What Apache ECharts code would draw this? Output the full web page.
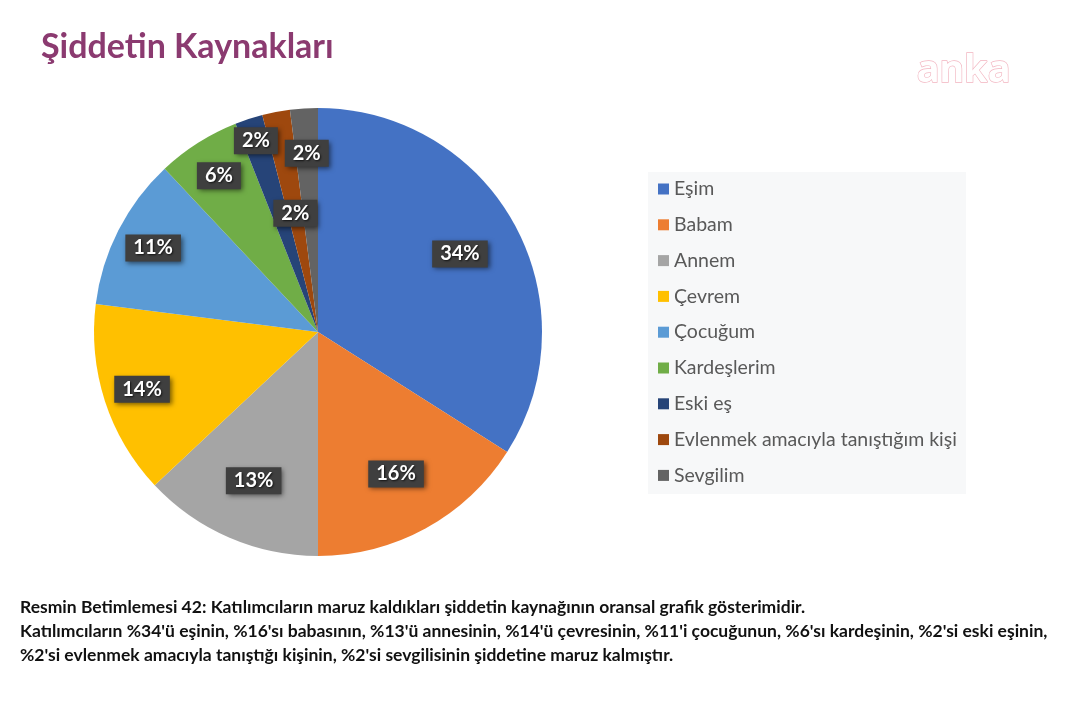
<!DOCTYPE html>
<html>
<head>
<meta charset="utf-8">
<script src="https://cdn.jsdelivr.net/npm/echarts@6/dist/echarts.min.js"></script>
<style>
html,body{margin:0;padding:0;background:#fff;}
#chart{width:1066px;height:708px;}
</style>
</head>
<body>
<div id="chart"></div>
<script>
const titleText = 'Şiddetin Kaynakları';
const categories = ['Eşim', 'Babam', 'Annem', 'Çevrem', 'Çocuğum', 'Kardeşlerim', 'Eski eş', 'Evlenmek amacıyla tanıştığım kişi', 'Sevgilim'];
const values = [34, 16, 13, 14, 11, 6, 2, 2, 2];
const colors = ['#4472C4', '#ED7D31', '#A5A5A5', '#FFC000', '#5B9BD5', '#70AD47', '#264478', '#9E480E', '#636363'];
const captionLines = [
  'Resmin Betimlemesi 42: Katılımcıların maruz kaldıkları şiddetin kaynağının oransal grafik gösterimidir.',
  "Katılımcıların %34'ü eşinin, %16'sı babasının, %13'ü annesinin, %14'ü çevresinin, %11'i çocuğunun, %6'sı kardeşinin, %2'si eski eşinin,",
  "%2'si evlenmek amacıyla tanıştığı kişinin, %2'si sevgilisinin şiddetine maruz kalmıştır."
];

const chart = echarts.init(document.getElementById('chart'), null, {renderer: 'canvas'});

const labelStyle = {
  show: true,
  position: 'inside',
  formatter: p => p.value + '%',
  color: '#ffffff',
  fontFamily: 'Lato',
  fontWeight: 'bold',
  fontSize: 20,
  backgroundColor: '#3f3f3f',
  padding: [4, 8, 3, 8],
  shadowColor: 'rgba(0,0,0,0.55)',
  shadowBlur: 5,
  shadowOffsetX: 2,
  shadowOffsetY: 2,
  textShadowColor: 'rgba(0,0,0,0.7)',
  textShadowBlur: 2,
  textShadowOffsetX: 1,
  textShadowOffsetY: 1
};

const center = [318, 332];
const pieRadius = 224;

// label rings: each label sits at the middle of a transparent ring (library 'inside' placement)
function labelSeries(outerRadius, showFn) {
  return {
    type: 'pie',
    center: center,
    radius: [0, outerRadius],
    startAngle: 90,
    silent: true,
    avoidLabelOverlap: false,
    labelLayout: {hideOverlap: false},
    itemStyle: {color: 'rgba(0,0,0,0)'},
    label: labelStyle,
    labelLine: {show: false},
    data: categories.map((c, i) => ({name: c, value: values[i], label: {show: showFn(i)}}))
  };
}

const option = {
  backgroundColor: '#ffffff',
  animation: false,
  color: colors,
  title: {
    text: titleText,
    left: 36,
    top: 25,
    textStyle: {fontFamily: 'Lato', fontWeight: 'bold', fontSize: 34, color: '#8b3a70'}
  },
  legend: {
    orient: 'vertical',
    left: 653,
    top: 174,
    icon: 'rect',
    itemWidth: 11,
    itemHeight: 11,
    itemGap: 15.8,
    data: categories,
    selectedMode: false,
    textStyle: {fontFamily: 'Lato', fontSize: 19.5, color: '#595959', lineHeight: 20}
  },
  graphic: [
    {type: 'rect', z: -1, shape: {x: 648, y: 172, width: 318, height: 322}, style: {fill: '#f7f8f9'}},
    {type: 'text', left: 916, top: 52, style: {text: 'anka', fontFamily: 'Noto Sans', fontWeight: 'bold', fontSize: 38, fill: '#ffffff', stroke: '#f2b5c0', lineWidth: 1.3}},
    {type: 'text', left: 20, top: 598, style: {text: captionLines[0], fontFamily: 'Lato', fontWeight: 'bold', fontSize: 17.5, fill: '#111111'}},
    {type: 'text', left: 20, top: 622, style: {text: captionLines[1], fontFamily: 'Lato', fontWeight: 'bold', fontSize: 17.5, fill: '#111111'}},
    {type: 'text', left: 20, top: 646, style: {text: captionLines[2], fontFamily: 'Lato', fontWeight: 'bold', fontSize: 17.5, fill: '#111111'}}
  ],
  series: [
    {
      type: 'pie',
      center: center,
      radius: pieRadius,
      startAngle: 90,
      silent: true,
      label: {show: false},
      labelLine: {show: false},
      data: categories.map((c, i) => ({name: c, value: values[i]}))
    },
    labelSeries(318, i => i <= 2),
    labelSeries(364, i => i >= 3 && i <= 5),
    labelSeries(396, i => i === 6),
    labelSeries(236, i => i === 7),
    labelSeries(352, i => i === 8)
  ]
};
chart.setOption(option);
</script>
</body>
</html>
